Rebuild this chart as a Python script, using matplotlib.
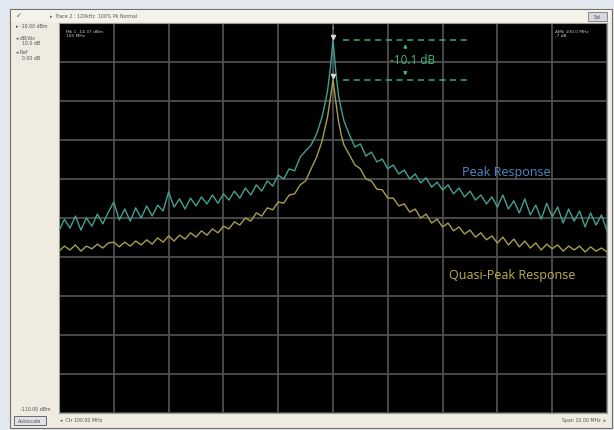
import numpy as np
import matplotlib
matplotlib.use("Agg")
import matplotlib.pyplot as plt
from matplotlib.patches import Rectangle, FancyBboxPatch

# Frequencias (MHz) y niveles (dBm)
freq_mhz = [95.0, 95.1, 95.2, 95.3, 95.4, 95.5, 95.6, 95.7, 95.8, 95.9,
            96.0, 96.1, 96.2, 96.3, 96.4, 96.5, 96.6, 96.7, 96.8, 96.9,
            97.0, 97.1, 97.2, 97.3, 97.4, 97.5, 97.6, 97.7, 97.8, 97.9,
            98.0, 98.1, 98.2, 98.3, 98.4, 98.5, 98.6, 98.7, 98.8, 98.9,
            99.0, 99.1, 99.2, 99.3, 99.4, 99.5, 99.6, 99.7, 99.8,
            99.85, 99.9, 99.95, 100.0, 100.05, 100.1, 100.15, 100.2,
            100.3, 100.4, 100.5, 100.6, 100.7, 100.8, 100.9,
            101.0, 101.1, 101.2, 101.3, 101.4, 101.5, 101.6, 101.7, 101.8, 101.9,
            102.0, 102.1, 102.2, 102.3, 102.4, 102.5, 102.6, 102.7, 102.8, 102.9,
            103.0, 103.1, 103.2, 103.3, 103.4, 103.5, 103.6, 103.7, 103.8, 103.9,
            104.0, 104.1, 104.2, 104.3, 104.4, 104.5, 104.6, 104.7, 104.8, 104.9,
            105.0]

peak_dbm = [-63.3, -60.3, -62.6, -59.5, -63.1, -60.0, -62.1, -59.0, -61.5, -58.5,
            -55.9, -60.5, -57.7, -60.8, -57.4, -60.0, -56.9, -59.5, -56.7, -58.2,
            -53.3, -57.2, -55.1, -57.7, -54.9, -56.9, -54.6, -56.4, -54.1, -56.2,
            -53.8, -55.4, -53.1, -54.9, -52.3, -54.1, -51.5, -53.1, -50.5, -51.8,
            -49.0, -50.0, -47.4, -47.9, -44.4, -42.8, -41.3, -38.5, -34.1,
            -31.0, -27.4, -21.8, -14.4, -22.3, -28.5, -32.1, -35.1,
            -38.7, -41.8, -41.0, -44.1, -43.1, -45.6, -44.9,
            -47.4, -46.4, -48.7, -47.7, -50.0, -48.7, -51.0, -49.7, -52.1, -50.8,
            -52.8, -51.5, -53.8, -52.3, -54.6, -53.1, -55.4, -54.1, -56.4, -54.6,
            -57.2, -54.1, -57.7, -55.6, -58.7, -55.1, -59.2, -56.7, -60.3, -56.2,
            -59.7, -57.2, -61.3, -57.7, -60.8, -58.2, -62.3, -58.7, -61.8, -59.2,
            -63.3]

qpeak_dbm = [-68.5, -67.2, -68.2, -66.9, -68.5, -67.2, -67.9, -66.7, -67.7, -66.4,
             -66.2, -67.4, -66.2, -67.2, -65.9, -66.9, -65.6, -66.7, -65.1, -66.2,
             -64.6, -65.9, -64.4, -65.4, -63.8, -64.9, -63.3, -64.4, -62.8, -63.8,
             -62.1, -62.8, -61.0, -61.8, -60.0, -60.8, -58.7, -59.5, -57.4, -57.9,
             -55.9, -56.2, -54.1, -53.8, -51.5, -50.5, -47.4, -44.4, -40.3,
             -37.2, -34.1, -29.5, -24.5, -30.0, -35.1, -38.7, -41.3,
             -43.8, -46.4, -47.4, -50.0, -50.5, -52.6, -52.8,
             -54.9, -54.9, -56.9, -56.4, -58.5, -57.7, -60.0, -59.0, -61.3, -60.3,
             -62.3, -61.3, -63.3, -62.3, -64.1, -63.1, -64.9, -63.8, -65.6, -64.6,
             -66.4, -64.9, -66.9, -65.4, -67.4, -65.9, -67.7, -66.4, -68.2, -66.7,
             -67.9, -66.9, -68.5, -67.2, -68.2, -67.2, -68.7, -67.4, -68.5, -67.7,
             -68.7]

ref_level = -10.0
bottom_level = -110.0
x_ticks = [95, 96, 97, 98, 99, 100, 101, 102, 103, 104, 105]
y_ticks = [-110, -100, -90, -80, -70, -60, -50, -40, -30, -20, -10]
delta_label = "-10.1 dB"

W, H = 614, 431


def fx(x):
    return x / W


def fy(y):
    return 1 - y / H


fig = plt.figure(figsize=(W / 100, H / 100), dpi=100)
fig.patch.set_facecolor("#e3e8f0")

# panel crema del instrumento
fig.patches.append(Rectangle((fx(10), fy(429)), fx(602), 419 / H, transform=fig.transFigure,
                             facecolor="#efebe0", edgecolor="#70706c", lw=0.8, zorder=-5))
fig.patches.append(Rectangle((fx(11), fy(23)), fx(600), 12 / H, transform=fig.transFigure,
                             facecolor="#f5f2ea", edgecolor="none", zorder=-4))

ax = fig.add_axes([fx(59), fy(414), fx(607 - 59), (414 - 24) / H])
ax.set_zorder(5)
ax.set_facecolor("black")
ax.set_xlim(95, 105)
ax.set_ylim(bottom_level, ref_level)
ax.set_xticks(x_ticks)
ax.set_yticks(y_ticks)
ax.grid(True, color="#555555", lw=1.2)
ax.tick_params(length=0, labelbottom=False, labelleft=False)
for s in ax.spines.values():
    s.set_color("#9a9a96")
    s.set_linewidth(0.8)

ax.plot(freq_mhz, peak_dbm, color="#44a090", lw=1.0, zorder=3)
ax.plot(freq_mhz, qpeak_dbm, color="#a89e4e", lw=1.0, zorder=3)

# marcadores en los picos
pk = max(peak_dbm)
qp = max(qpeak_dbm)
ax.plot([100.0], [pk + 0.8], marker="v", ms=3, color="#d8d8d8", zorder=4)
ax.plot([100.0], [qp + 0.8], marker="v", ms=3, color="#d8d8d8", zorder=4)

# lineas de diferencia
ax.hlines([pk, qp], 100.18, 102.45, colors="#35b070", linestyles=(0, (4, 3)), lw=1.1, zorder=4)
ax.text(101.45, (pk + qp) / 2, delta_label, color="#3cba76", fontsize=8.5,
        ha="center", va="center", family="Open Sans", zorder=5)
ax.annotate("", xy=(101.32, pk - 0.3), xytext=(101.32, pk - 2.8),
            arrowprops=dict(arrowstyle="-|>", color="#3cba76", lw=0.8, mutation_scale=5))
ax.annotate("", xy=(101.32, qp + 0.3), xytext=(101.32, qp + 2.8),
            arrowprops=dict(arrowstyle="-|>", color="#3cba76", lw=0.8, mutation_scale=5))

ax.text(103.17, -48.0, "Peak Response", color="#4f8ac8", fontsize=9,
        ha="center", va="center", family="Open Sans", zorder=5)
ax.text(103.27, -74.5, "Quasi-Peak Response", color="#c2b04c", fontsize=9,
        ha="center", va="center", family="Open Sans", zorder=5)

# textos pequeños dentro de la pantalla
ax.text(0.012, 0.985, "Mk 1 -14.37 dBm\n100 MHz", transform=ax.transAxes, color="#c8c8c8",
        fontsize=3.2, va="top", ha="left", linespacing=1.1)
ax.text(0.905, 0.985, "\u0394Mk 100.0 MHz\n-7 dB", transform=ax.transAxes, color="#c8c8c8",
        fontsize=3.2, va="top", ha="left", linespacing=1.1)
ax.text(100.0, ref_level - 0.4, "1", color="#c8c8c8", fontsize=3, ha="center", va="top")

# textos del panel
small = dict(fontsize=3.4, color="#505050")
fig.text(fx(16), fy(16), "\u2713", fontsize=5, color="#505050", va="center")
fig.text(fx(50), fy(16), "\u25b8  Trace 2 : 120kHz  100% Pk Normal", va="center", **small)
fig.text(fx(16), fy(27), "\u25b8 -10.00 dBm", va="center", **small)
fig.text(fx(16), fy(38), "\u25c2 dB/div", va="center", **small)
fig.text(fx(22), fy(44), "10.0 dB", va="center", **small)
fig.text(fx(16), fy(52), "\u25c2 Ref", va="center", **small)
fig.text(fx(22), fy(59), "0.00 dB", va="center", **small)
fig.text(fx(20), fy(410), "-110.00 dBm", va="center", **small)
fig.text(fx(60), fy(421), "\u25c2  Ctr 100.00 MHz", va="center", **small)
fig.text(fx(606), fy(421), "Span 10.00 MHz  \u25b8", va="center", ha="right", **small)

fig.patches.append(FancyBboxPatch((fx(14), fy(426)), fx(32), 9 / H, transform=fig.transFigure,
                                  boxstyle="square,pad=0", facecolor="#e2e2e6",
                                  edgecolor="#6a6a70", lw=0.7))
fig.text(fx(30), fy(421.5), "Autoscale", ha="center", va="center", **small)
fig.patches.append(FancyBboxPatch((fx(588), fy(22)), fx(19), 9 / H, transform=fig.transFigure,
                                  boxstyle="square,pad=0", facecolor="#d8d8dc",
                                  edgecolor="#7a7a80", lw=0.6))
fig.text(fx(597.5), fy(17.5), "Sel", ha="center", va="center", **small)

fig.savefig("out.png", dpi=100, facecolor=fig.get_facecolor())
